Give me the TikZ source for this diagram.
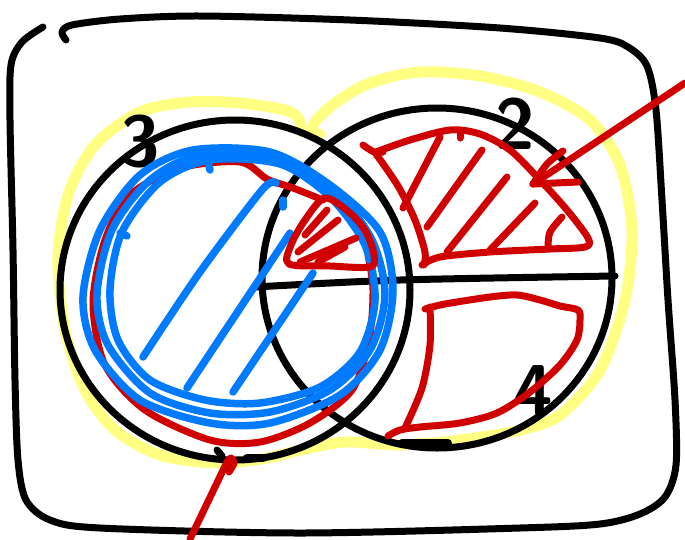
\documentclass[tikz,border=0pt]{standalone}
\usepackage{tikz}
\usetikzlibrary{calc}
\definecolor{inkred}{RGB}{208,0,0}
\definecolor{inkblue}{RGB}{0,122,255}
\definecolor{hiyellow}{RGB}{255,255,130}
\tikzset{
    pen/.style={line width=7pt, line cap=round, line join=round},
    blackpen/.style={pen, draw=black},
    redpen/.style={pen, draw=inkred, line width=7pt},
    bluepen/.style={pen, draw=inkblue, line width=7.5pt},
    marker/.style={pen, draw=hiyellow, line width=11pt},
    digit/.style={font=\fontsize{72}{72}\selectfont\sffamily\bfseries, inner sep=0pt, text=black},
}

\begin{document}
\begin{tikzpicture}[x=1pt, y=-1pt]
    \useasboundingbox (0,0) rectangle (685,539);
    % highlighter round both sets
    \draw[marker] plot[smooth] coordinates {(302,132) (298,118) (285,110) (240,103)
        (190,102) (140,112) (95,145) (68,195) (58,260) (65,330) (85,390) (115,430)
        (160,455) (217,463) (267,458) (300,450) (345,442) (400,445) (460,440)
        (520,430) (560,415) (600,370) (625,300) (632,230) (620,165) (590,120)
        (540,92) (480,76) (420,72) (370,83) (335,103) (315,122) (312,133) (320,134)};
    % frame
    \draw[blackpen] plot[smooth] coordinates {(43,27) (22,42) (11,65) (10,120)
        (13,250) (15,380) (18,460) (26,500) (50,520) (100,528) (300,533) (520,528)
        (600,524) (640,514) (665,497) (676,465) (675,400) (668,300) (662,200)
        (656,110) (647,66) (628,47) (600,38) (500,28) (350,20) (200,16) (120,19)
        (72,25) (62,32) (66,40)};
    % the two sets and the cut
    \draw[blackpen] (235,290) ellipse [x radius=175, y radius=170];
    \draw[blackpen] (437,278) ellipse [x radius=175, y radius=170];
    \draw[blackpen] plot[smooth] coordinates {(255,287) (400,280) (615,276)};
    \draw[blackpen] (217,450) -- (222,456);
    \draw[blackpen, line width=8.5pt] (247,458) -- (263,458);
    \draw[blackpen, line width=8pt] (402,443) -- (448,443);
    \node[digit] (lblthree) at (140,142) {3};
    \node[digit] (lbltwo) at (515,124) {2};
    \node[digit] (lblfour) at (533,391) {4};
    % red loop round the left set
    \draw[redpen] plot[smooth] coordinates {(323,200) (293,188) (267,179) (240,162)
        (180,168) (130,195) (105,240) (93,303) (105,365) (145,410) (210,440)
        (260,442) (310,423) (352,390) (369,340) (373,290) (368,255)};
    % blue loops
    \draw[bluepen] plot[smooth cycle] coordinates {(193,150) (270,152) (330,185)
        (380,232) (393,290) (380,350) (340,395) (270,423) (210,423) (140,400)
        (95,350) (83,297) (100,230) (140,175)};
    \draw[bluepen] plot[smooth cycle] coordinates {(200,155) (275,158) (335,192)
        (372,240) (385,295) (370,350) (330,390) (270,412) (210,413) (150,393)
        (108,345) (97,295) (112,230) (150,180)};
    \draw[bluepen] plot[smooth cycle] coordinates {(210,160) (280,164) (330,197)
        (365,245) (375,300) (360,352) (320,387) (260,403) (205,400) (150,380)
        (118,340) (110,290) (122,232) (160,182)};
    \draw[bluepen] plot[smooth] coordinates {(276,183) (262,190) (200,272) (143,357)};
    \draw[bluepen] (290,233) -- (187,388);
    \draw[bluepen] (313,273) -- (233,392);
    \draw[bluepen] (207,158) -- (210,170);
    \draw[bluepen] (120,233) -- (127,236);
    \draw[bluepen] (283,200) -- (283,207);
    % red wedge in the overlap
    \draw[redpen] plot[smooth cycle] coordinates {(325,198) (305,220) (291,245)
        (289,264) (330,266) (370,267) (374,255) (366,232) (350,213)};
    \draw[redpen] (305,235) -- (327,210);
    \draw[redpen] (298,252) -- (338,220);
    \draw[redpen] (300,262) -- (356,238);
    \draw[redpen] (318,262) -- (345,247);
    % red upper part of the right set
    \draw[redpen] plot[smooth] coordinates {(363,145) (374,152) (383,152)};
    \draw[redpen] plot[smooth] coordinates {(376,152) (410,140) (450,130) (480,134)
        (510,150) (540,180) (567,210) (588,238) (585,247) (550,249) (490,252)
        (440,257) (422,265)};
    \draw[redpen] plot[smooth] coordinates {(376,154) (398,186) (415,220) (425,252) (424,265)};
    \draw[redpen] (440,137) -- (403,208);
    \draw[redpen] (482,150) -- (427,227);
    \draw[redpen] (507,177) -- (447,252);
    \draw[redpen] (535,203) -- (490,250);
    \draw[redpen] plot[smooth] coordinates {(562,217) (550,232) (548,247)};
    \draw[redpen] (460,130) -- (460,138);
    % red lower part of the right set
    \draw[redpen] plot[smooth] coordinates {(425,309) (445,304) (490,297) (517,295)
        (540,300) (560,306) (578,310) (580,320) (577,340) (560,365) (530,392)
        (497,413) (460,423) (420,427) (400,430) (388,436)};
    \draw[redpen] plot[smooth] coordinates {(430,307) (430,345) (422,388) (405,428)};
    % arrows
    \coordinate (tipup) at (533,184);
    \coordinate (tipdown) at (227,462);
    \coordinate (tailup) at (685,83);
    \coordinate (taildown) at (190,539);
    \draw[redpen] (tailup) -- (tipup);
    \draw[redpen] plot[smooth] coordinates {(563,151) (547,164) (tipup)};
    \draw[redpen] (tipup) -- (578,182);
    \draw[redpen] (taildown) -- (tipdown);
    \draw[redpen] plot[smooth] coordinates {(tipdown) (231,458) (234,463) (229,472)};
\end{tikzpicture}
\end{document}
